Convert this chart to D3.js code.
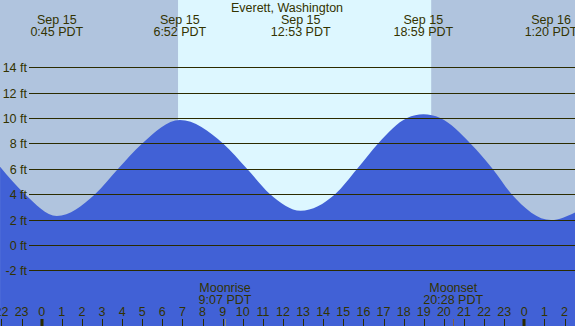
<!DOCTYPE html>
<html lang="en">
<head>
<meta charset="UTF-8" />
<title>Everett, Washington tides</title>
<script src="https://d3js.org/d3.v7.min.js"></script>
<style>
  body { margin: 0; background: #fff; }
  svg text { font-family: "Liberation Sans", Arial, sans-serif; font-size: 12.5px; fill: #333300; }
</style>
</head>
<body>
<div id="chart"></div>
<script>
// tide height: hours after Sep 15 00:00 PDT, feet
var tideHours   = [-2.07, -0.83, 0.75, 2.65, 3.8, 5.0, 6.87, 9.02, 10.21, 11.36, 12.88, 14.59, 15.69, 16.73, 18.17, 18.98, 19.82, 21.32, 22.42, 23.37, 25.33, 26.53];
var tideHeights = [6.16, 4.0, 2.28, 4.0, 6.0, 8.0, 9.84, 8.0, 6.0, 4.0, 2.7, 4.0, 6.0, 8.0, 10.0, 10.29, 10.0, 8.0, 6.0, 4.0, 1.96, 2.57];

// high / low labels along the top
var extremeHours = [0.75, 6.87, 12.88, 18.98, 25.33];
var extremeDates = ["Sep 15", "Sep 15", "Sep 15", "Sep 15", "Sep 16"];
var extremeTimes = ["0:45 PDT", "6:52 PDT", "12:53 PDT", "18:59 PDT", "1:20 PDT"];

// daylight band
var dayStart = 6.78, dayEnd = 19.37;

// moon events
var moonHours  = [9.117, 20.467];
var moonNames  = ["Moonrise", "Moonset"];
var moonTimes  = ["9:07 PDT", "20:28 PDT"];
var moonColors = ["#8a8a80", "#806040"];

var yTicks = [-2, 0, 2, 4, 6, 8, 10, 12, 14];
var hourTicks = d3.range(-2, 27);

var width = 575, height = 326;

var svg = d3.select("#chart").append("svg")
  .attr("width", width)
  .attr("height", height);

var x = d3.scaleLinear().domain([0, 24]).range([41.7, 524.3]);
var y = d3.scaleLinear().domain([-2, 14]).range([270.3, 67.3]);

// night / day background
svg.append("rect").attr("x", 0).attr("y", 0).attr("width", width).attr("height", height).attr("fill", "#b0c4de");
svg.append("rect")
  .attr("x", x(dayStart)).attr("y", 0)
  .attr("width", x(dayEnd) - x(dayStart)).attr("height", height)
  .attr("fill", "#ddf7ff");

// water
var tide = tideHours.map(function (h, i) { return { h: h, v: tideHeights[i] }; });
var area = d3.area()
  .x(function (d) { return x(d.h); })
  .y0(height)
  .y1(function (d) { return y(d.v); })
  .curve(d3.curveMonotoneX);
svg.append("path").datum(tide).attr("d", area).attr("fill", "#4161d6");

// gridlines + y labels
yTicks.forEach(function (t) {
  var yy = Math.round(y(t)) + 0.5;
  svg.append("line")
    .attr("x1", 29).attr("x2", width)
    .attr("y1", yy).attr("y2", yy)
    .attr("stroke", "#2b2b00").attr("stroke-width", 1);
  svg.append("text")
    .attr("x", 27).attr("y", yy + 4.5)
    .attr("text-anchor", "end")
    .text(t + " ft");
});

// title
svg.append("text").attr("x", 287).attr("y", 12).attr("text-anchor", "middle").text("Everett, Washington");

// extreme labels
extremeHours.forEach(function (h, i) {
  svg.append("text").attr("x", x(h)).attr("y", 23.5).attr("text-anchor", "middle").text(extremeDates[i]);
  svg.append("text").attr("x", x(h)).attr("y", 36).attr("text-anchor", "middle").text(extremeTimes[i]);
});

// hour ticks
hourTicks.forEach(function (h) {
  var xx = Math.round(x(h));
  var midnight = (h % 24 === 0);
  svg.append("rect")
    .attr("x", midnight ? xx - 1.5 : xx)
    .attr("y", 319)
    .attr("width", midnight ? 3 : 1)
    .attr("height", 7)
    .attr("fill", "#2b2b00");
  svg.append("text")
    .attr("x", x(h)).attr("y", 316)
    .attr("text-anchor", "middle")
    .text(((h % 24) + 24) % 24);
});

// moon events
moonHours.forEach(function (h, i) {
  var xx = Math.round(x(h));
  svg.append("rect").attr("x", xx).attr("y", 319).attr("width", 1).attr("height", 7).attr("fill", moonColors[i]);
  svg.append("text").attr("x", x(h)).attr("y", 291.5).attr("text-anchor", "middle").text(moonNames[i]);
  svg.append("text").attr("x", x(h)).attr("y", 303.5).attr("text-anchor", "middle").text(moonTimes[i]);
});
</script>
</body>
</html>
